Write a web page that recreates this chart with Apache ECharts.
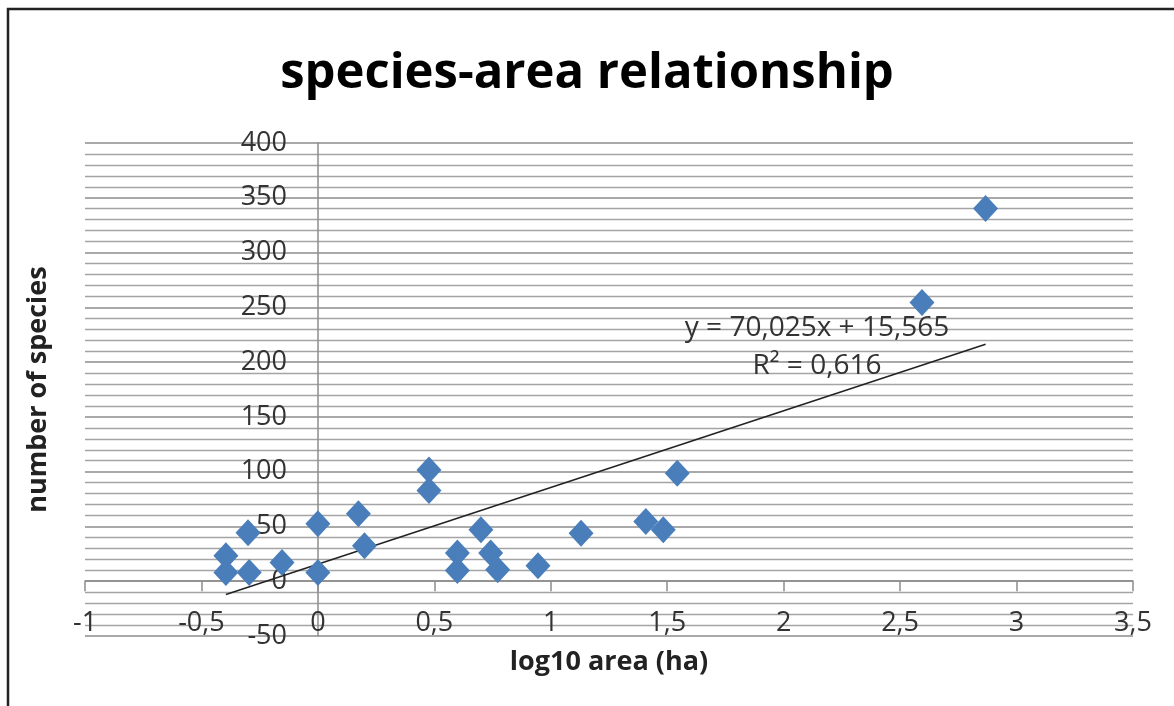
<!DOCTYPE html>
<html style="height: 100%">

<head>
  <meta charset="utf-8" />
  <title>species-area relationship</title>
  <script src="https://cdn.jsdelivr.net/npm/echarts@6/dist/echarts.min.js"></script>
</head>

<body style="height: 100%; margin: 0; overflow: hidden; background: #fff">
  <div id="container" style="width: 1174px; height: 706px"></div>
  <script>
    // log10 area (ha) and number of species
    var logArea = [-0.395, -0.395, -0.300, -0.295, -0.154, 0.000, 0.000, 0.174, 0.200,
      0.477, 0.477, 0.599, 0.599, 0.700, 0.742, 0.772, 0.945, 1.130, 1.408, 1.483,
      1.543, 2.594, 2.867];
    var species = [23.2, 8.0, 44.2, 8.0, 17.1, 52.4, 8.0, 61.5, 32.4,
      101.6, 82.8, 25.7, 9.8, 46.9, 25.7, 10.5, 14.1, 43.9, 54.5, 46.9,
      98.6, 254.5, 340.2];
    // linear trend line ends
    var trendX = [-0.395, 2.867];
    var trendY = [-12.1, 216.3];
    var equation = ["y = 70,025x + 15,565", "R\u00b2 = 0,616"];

    var dom = document.getElementById("container");
    var myChart = echarts.init(dom, null, { renderer: "canvas" });

    var font = "'Open Sans', 'Noto Sans', sans-serif";
    var points = logArea.map((x, i) => [x, species[i]]);
    var trend = trendX.map((x, i) => [x, trendY[i]]);

    var option = {
      backgroundColor: "#fff",
      animation: false,
      title: {
        text: "species-area relationship",
        left: "center",
        top: 45,
        textStyle: { fontFamily: font, fontWeight: "bold", fontSize: 49, color: "#000" },
      },
      grid: { left: 85, right: 41, top: 143, bottom: 70, containLabel: false, outerBoundsMode: "none" },
      xAxis: {
        type: "value",
        min: -1,
        max: 3.5,
        interval: 0.5,
        name: "log10 area (ha)",
        nameLocation: "middle",
        nameGap: 13,
        nameMoveOverlap: false,
        nameTextStyle: { fontFamily: font, fontWeight: "bold", fontSize: 27, color: "#222" },
        axisLine: { onZero: true, lineStyle: { color: "#8c8c8c", width: 1.5 } },
        axisTick: { show: true, length: 10, lineStyle: { color: "#8c8c8c", width: 1.5 } },
        axisLabel: {
          margin: -26,
          fontFamily: font,
          fontSize: 27,
          color: "#333",
          formatter: v => String(v).replace(".", ","),
        },
        splitLine: { show: false },
      },
      yAxis: {
        type: "value",
        min: -50,
        max: 400,
        interval: 50,
        name: "number of species",
        nameLocation: "middle",
        nameGap: 33,
        nameMoveOverlap: false,
        nameTextStyle: { fontFamily: font, fontWeight: "bold", fontSize: 27, color: "#222" },
        axisLine: { show: true, onZero: true, lineStyle: { color: "#8c8c8c", width: 1.5 } },
        axisTick: { show: false },
        axisLabel: { margin: -202, fontFamily: font, fontSize: 27, color: "#333" },
        splitLine: { show: true, lineStyle: { color: "#8c8c8c", width: 1.5 } },
        minorTick: { show: false, splitNumber: 5 },
        minorSplitLine: { show: true, lineStyle: { color: "#a4a4a4", width: 1.3 } },
      },
      series: [
        {
          type: "line",
          data: trend,
          symbol: "none",
          lineStyle: { color: "#222", width: 1.5 },
          z: 3,
        },
        {
          type: "scatter",
          data: points,
          symbol: "diamond",
          symbolSize: [25, 27],
          itemStyle: { color: "#4a7ebb", opacity: 1 },
          z: 4,
        },
      ],
      graphic: [
        {
          type: "rect",
          shape: { x: 8, y: 9, width: 1200, height: 800 },
          style: { fill: "none", stroke: "#222", lineWidth: 2.5 },
        },
        {
          type: "text",
          x: 817,
          y: 328,
          style: {
            text: equation[0], font: "28px " + font, fill: "#333",
            textAlign: "center", textVerticalAlign: "middle",
          },
          z: 10,
        },
        {
          type: "text",
          x: 817,
          y: 366,
          style: {
            text: equation[1], font: "28px " + font, fill: "#333",
            textAlign: "center", textVerticalAlign: "middle",
          },
          z: 10,
        },
      ],
    };
    myChart.setOption(option);
  </script>
</body>

</html>
